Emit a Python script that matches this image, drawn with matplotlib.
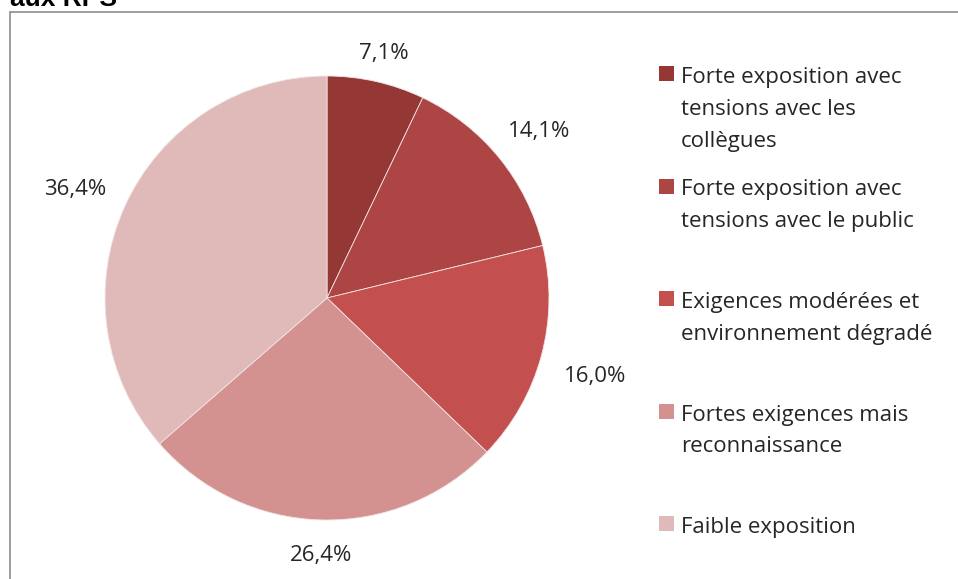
import numpy as np
import matplotlib
matplotlib.use("Agg")
import matplotlib.pyplot as plt
from matplotlib.patches import Rectangle

categories = [
    "Forte exposition avec\ntensions avec les\ncollègues",
    "Forte exposition avec\ntensions avec le public",
    "Exigences modérées et\nenvironnement dégradé",
    "Fortes exigences mais\nreconnaissance",
    "Faible exposition",
]
shares = [7.1, 14.1, 16.0, 26.4, 36.4]
colors = ["#953735", "#AC4543", "#C3504E", "#D39190", "#E0BAB9"]

W, H = 958, 579
fig = plt.figure(figsize=(W / 100, H / 100), dpi=100)
fig.patch.set_facecolor("white")

FONT = "Open Sans"
FS = 16
TXT = "#262626"

# chart frame (extends beyond the right and bottom edges)
frame = Rectangle((10 / W, -0.05), 1.2, (H - 12) / H + 0.05, transform=fig.transFigure,
                  fill=False, edgecolor="#8c8c8c", linewidth=1.2)
fig.patches.append(frame)

# partially visible title
fig.text(10 / W, 1 - 6 / H, "aux RPS", fontsize=19, fontweight="bold",
         family="Liberation Sans", color="black", ha="left", va="baseline")

# pie
cx, cy, r = 327, 298, 222
ax = fig.add_axes([(cx - r) / W, (H - cy - r) / H, 2 * r / W, 2 * r / H])
wedges, _ = ax.pie(shares, colors=colors, startangle=90, counterclock=False,
                   radius=1.0, wedgeprops=dict(edgecolor="#f2e4e4", linewidth=0.6))
ax.set_xlim(-1, 1)
ax.set_ylim(-1, 1)
ax.set_aspect("equal")
ax.axis("off")

# value labels just outside each slice: the label box sits a fixed gap
# beyond the rim, along the slice's mid-angle
renderer = fig.canvas.get_renderer()
gap = 24 / r
drop = 6 / r
for w, v in zip(wedges, shares):
    th = np.deg2rad((w.theta1 + w.theta2) / 2)
    c, s = np.cos(th), np.sin(th)
    t = ax.text(0, 0, f"{v:.1f}%".replace(".", ","), ha="center", va="center",
                fontsize=FS, family=FONT, color=TXT, clip_on=False)
    bb = t.get_window_extent(renderer)
    hw, hh = bb.width / 2 / r, bb.height / 2 / r * 0.5
    d = 1 + gap + abs(c) * hw + abs(s) * hh
    t.set_position((d * c, d * s - drop))

# legend, entries evenly distributed, one text per line
top_px, step_px, line_px = 66, 112.5, 32
for i, (lab, col) in enumerate(zip(categories, colors)):
    y = top_px + i * step_px
    fig.patches.append(Rectangle((659 / W, 1 - (y + 15) / H), 15 / W, 15 / H,
                                 transform=fig.transFigure, facecolor=col, edgecolor="none"))
    for k, line in enumerate(lab.split("\n")):
        fig.text(681 / W, 1 - (y + 17 + k * line_px) / H, line, fontsize=FS,
                 family=FONT, color=TXT, ha="left", va="baseline")

fig.savefig("out.png", dpi=100)
